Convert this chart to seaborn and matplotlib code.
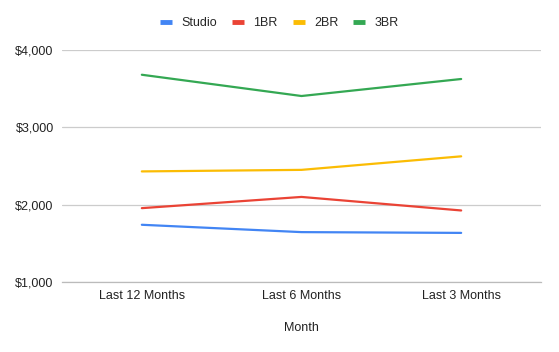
import matplotlib
matplotlib.use('Agg')
import matplotlib.pyplot as plt
import seaborn as sns
import pandas as pd
from matplotlib.ticker import FuncFormatter

periods = ['Last 12 Months', 'Last 6 Months', 'Last 3 Months']
studio = [1740, 1645, 1635]
br1 = [1955, 2100, 1925]
br2 = [2430, 2450, 2625]
br3 = [3680, 3405, 3625]

series = {'Studio': studio, '1BR': br1, '2BR': br2, '3BR': br3}
colors = ['#4285F4', '#EA4335', '#FBBC04', '#34A853']

rows = []
for name, vals in series.items():
    for i, v in enumerate(vals):
        rows.append({'Month': i, 'Rent': v, 'Type': name})
df = pd.DataFrame(rows)

sns.set_style('white')
plt.rcParams['font.family'] = ['Liberation Sans', 'DejaVu Sans']

fig = plt.figure(figsize=(5.59, 3.52), dpi=100)
ax = fig.add_axes([62 / 559, 1 - 282 / 352, (541 - 62) / 559, (282 - 50) / 352])

sns.lineplot(data=df, x='Month', y='Rent', hue='Type', palette=colors,
             sort=False, linewidth=1.6, ax=ax, legend=False)

ax.set_xlim(-0.5, 2.5)
ax.set_ylim(1000, 4000)
ax.set_xticks(range(len(periods)))
ax.set_xticklabels(periods)
ax.set_yticks([1000, 2000, 3000, 4000])
ax.yaxis.set_major_formatter(FuncFormatter(lambda v, p: f'${v:,.0f}'))
ax.grid(axis='y', color='#cccccc', linewidth=0.9)
ax.tick_params(axis='both', length=0, labelsize=9, labelcolor='#222222')
ax.tick_params(axis='y', pad=6)
ax.tick_params(axis='x', pad=6)
for s in ['top', 'right', 'left']:
    ax.spines[s].set_visible(False)
ax.spines['bottom'].set_color('#bbbbbb')
ax.spines['bottom'].set_linewidth(0.9)
ax.set_xlabel('Month', fontsize=9, color='#222222', labelpad=14)
ax.set_ylabel('')

handles = [plt.Line2D([], [], color=c, linewidth=3.5, solid_capstyle='butt') for c in colors]
fig.legend(handles, list(series.keys()), loc='center', bbox_to_anchor=(0.5, 1 - 23 / 352),
           ncol=4, frameon=False, fontsize=9, handlelength=0.95, columnspacing=1.2,
           handletextpad=0.75)

fig.savefig('out.png', dpi=100)
